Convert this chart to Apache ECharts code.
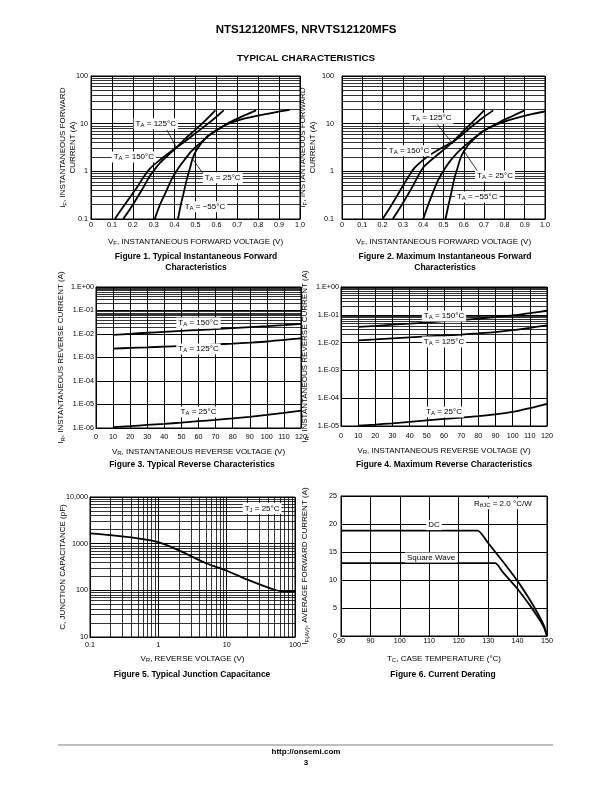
<!DOCTYPE html>
<html><head><meta charset="utf-8">
<script src="https://cdn.jsdelivr.net/npm/echarts@6.0.0/dist/echarts.min.js"></script>
<style>html,body{margin:0;padding:0;background:#fff}#c{width:612px;height:792px}</style>
</head><body><div id="c"></div>
<script>
// ---------- DATA ----------
// Figure 1 (typical forward), [VF (V), iF (A)]
const fig1_150 = [[0.114,0.1],[0.15,0.17],[0.19,0.3],[0.225,0.5],[0.255,0.8],[0.285,1.18],[0.32,1.6],[0.36,2.2],[0.41,3.2],[0.46,4.6],[0.51,6.8],[0.56,10],[0.60,14],[0.635,19]];
const fig1_125 = [[0.154,0.1],[0.19,0.17],[0.225,0.3],[0.255,0.5],[0.28,0.78],[0.305,1.1],[0.33,1.5],[0.37,2.2],[0.41,3.2],[0.45,4.8],[0.50,7.5],[0.55,12],[0.595,19]];
const fig1_25  = [[0.305,0.1],[0.33,0.2],[0.36,0.38],[0.385,0.67],[0.42,1.2],[0.45,1.8],[0.475,2.5],[0.50,3.2],[0.53,4.2],[0.56,5.5],[0.61,7.6],[0.66,10.5],[0.72,14],[0.79,19]];
const fig1_m55 = [[0.416,0.1],[0.43,0.2],[0.445,0.38],[0.458,0.67],[0.472,1.1],[0.487,1.9],[0.505,2.8],[0.53,4.0],[0.56,5.5],[0.60,7.4],[0.65,9.6],[0.72,12.3],[0.80,14.8],[0.88,17.3],[0.95,19.5]];
// Figure 2 (maximum forward)
const fig2_150 = [[0.20,0.1],[0.235,0.17],[0.27,0.3],[0.30,0.5],[0.33,0.8],[0.355,1.15],[0.39,1.6],[0.44,2.3],[0.49,3.1],[0.545,4.1],[0.59,5.8],[0.64,8.8],[0.69,13],[0.745,19]];
const fig2_125 = [[0.25,0.1],[0.285,0.17],[0.32,0.3],[0.35,0.5],[0.375,0.8],[0.40,1.2],[0.43,1.6],[0.48,2.4],[0.545,4.1],[0.59,6.5],[0.64,10.5],[0.70,19]];
const fig2_25  = [[0.40,0.1],[0.425,0.2],[0.45,0.38],[0.475,0.67],[0.51,1.2],[0.54,1.8],[0.57,2.5],[0.60,3.3],[0.635,4.4],[0.67,5.8],[0.72,8.0],[0.78,11],[0.84,14.5],[0.90,19]];
const fig2_m55 = [[0.51,0.1],[0.525,0.2],[0.54,0.38],[0.552,0.67],[0.567,1.1],[0.584,1.9],[0.60,2.6],[0.625,3.7],[0.655,5.0],[0.69,6.8],[0.74,8.8],[0.80,11],[0.87,13.5],[0.94,16],[1.0,18]];
// Figure 3 (typical reverse), [VR (V), IR (A)]
const fig3_150 = [[10,0.0092],[20,0.0102],[30,0.0113],[40,0.0124],[50,0.0136],[60,0.0148],[70,0.0162],[80,0.0177],[90,0.0195],[100,0.0215],[110,0.024],[120,0.027]];
const fig3_125 = [[10,0.0024],[20,0.00255],[30,0.0027],[40,0.0029],[50,0.0031],[60,0.0033],[70,0.0036],[80,0.0039],[90,0.0043],[100,0.0048],[110,0.0056],[120,0.0065]];
const fig3_25  = [[10,1.1e-6],[20,1.2e-6],[30,1.35e-6],[40,1.5e-6],[50,1.7e-6],[60,1.95e-6],[70,2.2e-6],[80,2.55e-6],[90,3.0e-6],[100,3.6e-6],[110,4.4e-6],[120,5.5e-6]];
// Figure 4 (maximum reverse)
const fig4_150 = [[10,0.037],[20,0.040],[30,0.044],[40,0.048],[50,0.053],[60,0.059],[70,0.065],[80,0.073],[90,0.083],[100,0.095],[110,0.115],[120,0.14]];
const fig4_125 = [[10,0.012],[20,0.013],[30,0.0142],[40,0.0155],[50,0.0168],[60,0.018],[70,0.0195],[80,0.0215],[90,0.024],[100,0.028],[110,0.034],[120,0.042]];
const fig4_25  = [[10,1.03e-5],[20,1.13e-5],[30,1.25e-5],[40,1.4e-5],[50,1.6e-5],[60,1.8e-5],[70,2.0e-5],[80,2.25e-5],[90,2.6e-5],[100,3.2e-5],[110,4.4e-5],[120,6.3e-5]];
// Figure 5 (junction capacitance), [VR (V), C (pF)]
const fig5_cap = [[0.1,1660],[0.2,1520],[0.5,1300],[1,1080],[2,720],[5,380],[10,263],[20,170],[50,103],[70,95],[100,95]];
// Figure 6 (current derating), [TC (°C), IF(AV) (A)]
const fig6_dc = [[80,18.8],[126.5,18.8],[130,16.6],[135,13.3],[140,9.8],[144,6.6],[147,3.9],[149,1.8],[150,0]];
const fig6_sq = [[80,13.0],[132.5,13.0],[135,11.4],[140,8.4],[144,5.6],[147,3.3],[149,1.5],[150,0]];

// Tick labels
const ticksV10 = ['0','0.1','0.2','0.3','0.4','0.5','0.6','0.7','0.8','0.9','1.0'];
const ticksIF  = ['0.1','1','10','100'];
const ticksVR  = ['0','10','20','30','40','50','60','70','80','90','100','110','120'];
const ticksIR3 = ['1.E-06','1.E-05','1.E-04','1.E-03','1.E-02','1.E-01','1.E+00'];
const ticksIR4 = ['1.E-05','1.E-04','1.E-03','1.E-02','1.E-01','1.E+00'];
const ticksC   = ['10','100','1000','10,000'];
const ticksVR5 = ['0.1','1','10','100'];
const ticksTC  = ['80','90','100','110','120','130','140','150'];
const ticksIAV = ['0','5','10','15','20','25'];

// ---------- STYLE ----------
const FF = 'Liberation Sans';
const TF = 7.2;   // tick font
const NF = 8;     // axis-name font
const chart = echarts.init(document.getElementById('c'), null, {renderer:'canvas'});
const subRich = {s:{fontSize:6, fontFamily:FF, color:'#000', verticalAlign:'bottom', padding:[3,0,0,0]}};

function minors(lo, hi){ // log minor grid positions 2..9 of each decade
  const out=[]; for(let e=lo;e<hi;e++){ for(let k=2;k<=9;k++){ out.push(+(k*Math.pow(10,e)).toPrecision(3)); } } return out;
}
function lab(margin, arr){ return {fontFamily:FF, fontSize:TF, color:'#000', margin:margin, formatter:(v,i)=>arr[i]}; }
function xAx(gi, o){
  return Object.assign({gridIndex:gi, type:'value', nameLocation:'middle', nameMoveOverlap:false,
    nameTextStyle:{fontFamily:FF, fontSize:NF, color:'#000', rich:subRich},
    axisLine:{show:true, lineStyle:{color:'#000', width:1}}, axisTick:{show:false},
    splitLine:{show:true, lineStyle:{color:'#000', width:1}}}, o);
}
function yAx(gi, o){
  return Object.assign({gridIndex:gi, type:'value', nameLocation:'middle', nameRotate:90, nameMoveOverlap:false,
    nameTextStyle:{fontFamily:FF, fontSize:NF, color:'#000', lineHeight:10, rich:subRich},
    axisLine:{show:true, lineStyle:{color:'#000', width:1}}, axisTick:{show:false},
    splitLine:{show:true, lineStyle:{color:'#000', width:1}}}, o);
}
function line(gi, data, smooth, ml){
  const s = {type:'line', xAxisIndex:gi, yAxisIndex:gi, data:data, showSymbol:false, symbol:'none',
    smooth: smooth, lineStyle:{color:'#000', width:1.8}, silent:true, animation:false, z:5};
  if(ml){ s.markLine = {silent:true, symbol:['none','none'], label:{show:false}, animation:false,
    lineStyle:{color:'#000', width:0.8, type:'solid'}, emphasis:{disabled:true}, z:2, data:ml}; }
  return s;
}
const ymin = v => v.map(x=>({yAxis:x}));
const xmin = v => v.map(x=>({xAxis:x}));

const option = {
  backgroundColor:'#fff',
  animation:false,
  grid:[
    {left:91, top:76, width:209, height:143},
    {left:342, top:76, width:203, height:143},
    {left:96, top:287, width:205, height:141},
    {left:341, top:287, width:206, height:139},
    {left:90, top:497, width:205, height:140},
    {left:341, top:496, width:206, height:140}
  ].map(g=>Object.assign({show:true, borderColor:'#000', borderWidth:1, containLabel:false}, g)),
  xAxis:[
    xAx(0,{min:0,max:1,interval:0.1, name:'V{s|F}, INSTANTANEOUS FORWARD VOLTAGE (V)', nameGap:18, axisLabel:lab(3,ticksV10)}),
    xAx(1,{min:0,max:1,interval:0.1, name:'V{s|F}, INSTANTANEOUS FORWARD VOLTAGE (V)', nameGap:18, axisLabel:lab(3,ticksV10)}),
    xAx(2,{min:0,max:120,interval:10, name:'V{s|R}, INSTANTANEOUS REVERSE VOLTAGE (V)', nameGap:19, axisLabel:lab(6,ticksVR)}),
    xAx(3,{min:0,max:120,interval:10, name:'V{s|R}, INSTANTANEOUS REVERSE VOLTAGE (V)', nameGap:20, axisLabel:lab(7,ticksVR)}),
    xAx(4,{type:'log', logBase:10, min:0.1, max:100, splitNumber:3, name:'V{s|R}, REVERSE VOLTAGE (V)', nameGap:17, axisLabel:lab(5,ticksVR5)}),
    xAx(5,{min:80,max:150,interval:10, name:'T{s|C}, CASE TEMPERATURE (°C)', nameGap:18, axisLabel:lab(2,ticksTC)})
  ],
  yAxis:[
    yAx(0,{type:'log', logBase:10, min:0.1, max:100, splitNumber:3, name:'i{s|F}, INSTANTANEOUS FORWARD\nCURRENT (A)', nameGap:13, axisLabel:lab(3,ticksIF)}),
    yAx(1,{type:'log', logBase:10, min:0.1, max:100, splitNumber:3, name:'I{s|F}, INSTANTANEOUS FORWARD\nCURRENT (A)', nameGap:24, axisLabel:lab(8,ticksIF)}),
    yAx(2,{type:'log', logBase:10, min:1e-6, max:1, splitNumber:6, name:'I{s|R}, INSTANTANEOUS REVERSE CURRENT (A)', nameGap:30, axisLabel:lab(2,ticksIR3)}),
    yAx(3,{type:'log', logBase:10, min:1e-5, max:1, splitNumber:5, name:'I{s|R}, INSTANTANEOUS REVERSE CURRENT (A)', nameGap:31, axisLabel:lab(2,ticksIR4)}),
    yAx(4,{type:'log', logBase:10, min:10, max:10000, splitNumber:3, name:'C, JUNCTION CAPACITANCE (pF)', nameGap:22, axisLabel:lab(2,ticksC)}),
    yAx(5,{min:0,max:25,interval:5, name:'I{s|F(AV)}, AVERAGE FORWARD CURRENT (A)', nameGap:31, axisLabel:lab(4,ticksIAV)})
  ],
  series:[
    line(0, fig1_150, 0.25, ymin(minors(-1,2))), line(0, fig1_125, 0.25), line(0, fig1_25, 0.25), line(0, fig1_m55, 0.25),
    line(1, fig2_150, 0.25, ymin(minors(-1,2))), line(1, fig2_125, 0.25), line(1, fig2_25, 0.25), line(1, fig2_m55, 0.25),
    line(2, fig3_150, 0.25, ymin(minors(-6,0))), line(2, fig3_125, 0.25), line(2, fig3_25, 0.25),
    line(3, fig4_150, 0.25, ymin(minors(-5,0))), line(3, fig4_125, 0.25), line(3, fig4_25, 0.25),
    line(4, fig5_cap, 0.3, ymin(minors(1,4)).concat(xmin(minors(-1,2)))),
    line(5, fig6_dc, 0.15), line(5, fig6_sq, 0.15)
  ]
};
chart.setOption(option);

// ---------- ANNOTATIONS ----------
const notes = [
  [0, 0.31, 10, 'T{s|A} = 125°C'], [0, 0.205, 2.0, 'T{s|A} = 150°C'], [0, 0.63, 0.73, 'T{s|A} = 25°C'], [0, 0.545, 0.18, 'T{s|A} = −55°C'],
  [1, 0.44, 13, 'T{s|A} = 125°C'], [1, 0.33, 2.7, 'T{s|A} = 150°C'], [1, 0.754, 0.8, 'T{s|A} = 25°C'], [1, 0.666, 0.29, 'T{s|A} = −55°C'],
  [2, 60, 0.0295, 'T{s|A} = 150°C'], [2, 60, 0.0023, 'T{s|A} = 125°C'], [2, 60, 4.8e-6, 'T{s|A} = 25°C'],
  [3, 60, 0.091, 'T{s|A} = 150°C'], [3, 60, 0.0105, 'T{s|A} = 125°C'], [3, 60, 3.2e-5, 'T{s|A} = 25°C'],
  [4, 33, 5700, 'T{s|J} = 25°C'],
  [5, 135, 23.6, 'R{s|θJC} = 2.0 °C/W'], [5, 111.6, 19.8, 'DC'], [5, 110.6, 14.0, 'Square Wave']
];
const pointers = [
  [0, [0.363,7.4], [0.408,3.2]], [0, [0.551,0.73], [0.483,1.9]],
  [1, [0.469,9.7], [0.548,3.7]], [1, [0.67,0.98], [0.597,2.8]]
];
const g = [];
notes.forEach(n=>{
  const p = chart.convertToPixel({gridIndex:n[0]}, [n[1], n[2]]);
  g.push({type:'text', x:p[0], y:p[1], z:100, style:{text:n[3], fontFamily:FF, fontSize:8, fill:'#000',
    align:'center', verticalAlign:'middle', backgroundColor:'#fff', padding:[1,2,1,2], rich:{s:{fontSize:6, fontFamily:FF, fill:'#000', padding:[3,0,0,0]}}}});
});
pointers.forEach(q=>{
  const a = chart.convertToPixel({gridIndex:q[0]}, q[1]);
  const b = chart.convertToPixel({gridIndex:q[0]}, q[2]);
  g.push({type:'line', z:99, shape:{x1:a[0],y1:a[1],x2:b[0],y2:b[1]}, style:{stroke:'#000', lineWidth:0.8}});
});
const pageText = [
  [306, 30, 'NTS12120MFS, NRVTS12120MFS', 11.5],
  [306, 58, 'TYPICAL CHARACTERISTICS', 9.8],
  [196, 257, 'Figure 1. Typical Instantaneous Forward', 8.5], [196, 268, 'Characteristics', 8.5],
  [445, 257, 'Figure 2. Maximum Instantaneous Forward', 8.5], [445, 268, 'Characteristics', 8.5],
  [192, 465, 'Figure 3. Typical Reverse Characteristics', 8.5],
  [444, 465, 'Figure 4. Maximum Reverse Characteristics', 8.5],
  [192, 675, 'Figure 5. Typical Junction Capacitance', 8.5],
  [443, 675, 'Figure 6. Current Derating', 8.5],
  [306, 752, 'http://onsemi.com', 8], [306, 763, '3', 8]
];
pageText.forEach(t=>{
  g.push({type:'text', x:t[0], y:t[1], z:100, style:{text:t[2], fontFamily:FF, fontWeight:'bold', fontSize:t[3], fill:'#000', align:'center', verticalAlign:'middle'}});
});
g.push({type:'line', z:100, shape:{x1:58,y1:745,x2:553,y2:745}, style:{stroke:'#aaa', lineWidth:1.5}});
chart.setOption({graphic:g});
</script></body></html>
